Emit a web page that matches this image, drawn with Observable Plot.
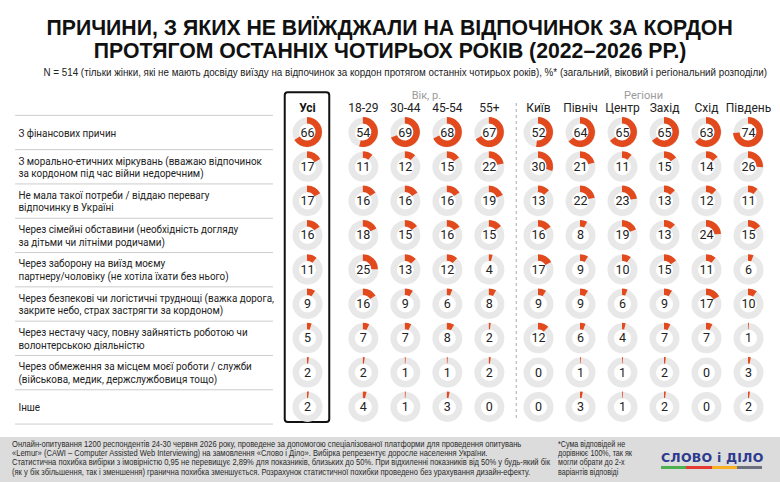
<!DOCTYPE html>
<html lang="uk">
<head>
<meta charset="utf-8">
<script src="https://cdn.jsdelivr.net/npm/d3@7"></script>
<script src="https://cdn.jsdelivr.net/npm/@observablehq/plot@0.6"></script>
<style>
  html, body { margin: 0; padding: 0; background: #fff; }
  body { width: 780px; height: 482px; overflow: hidden; position: relative;
         font-family: Roboto, "Liberation Sans", Arial, sans-serif; color: #222; }
  .line { display: inline-block; white-space: nowrap; }
  #title { position: absolute; top: 15.5px; left: 0; width: 780px; text-align: center;
           font-family: "Liberation Sans", Arial, sans-serif;
           font-weight: bold; font-size: 22px; line-height: 23px; color: #111; }
  #title .line { transform-origin: 50% 50%; }
  #subtitle { position: absolute; top: 66px; left: 0; width: 780px; text-align: center;
              font-family: "Liberation Sans", Arial, sans-serif;
              font-size: 11px; line-height: 12px; color: #222; }
  #subtitle .line { transform-origin: 50% 50%; }
  #chart { position: absolute; top: 82px; left: 0; }
  #footer { position: absolute; top: 437px; left: 0; width: 780px; height: 45px; background: #dcdcdc; }
  #method, #note { position: absolute; top: 3px; font-family: "Liberation Sans", Arial, sans-serif;
            font-size: 8.6px; line-height: 9.2px; color: #2a2a2a; white-space: nowrap; transform-origin: 0 0; }
  #method { left: 12px; }
  #note { left: 558px; }
  #logo { position: absolute; left: 661px; top: 15px; width: 101px; }
  #logo .word { font-family: "DejaVu Sans", sans-serif; font-weight: bold; font-size: 12.5px;
                line-height: 12px; color: #2d3a8f; letter-spacing: 0.2px; white-space: nowrap; }
  #logo .bar { display: flex; height: 2.5px; margin-top: 2px; }
  #logo .bar span { flex: 1; }
</style>
</head>
<body>
<div id="title"><span class="line" id="t1">ПРИЧИНИ, З ЯКИХ НЕ ВИЇЖДЖАЛИ НА ВІДПОЧИНОК ЗА КОРДОН</span><br><span class="line" id="t2">ПРОТЯГОМ ОСТАННІХ ЧОТИРЬОХ РОКІВ (2022–2026 РР.)</span></div>
<div id="subtitle"><span class="line" id="sub">N = 514 (тільки жінки, які не мають досвіду виїзду на відпочинок за кордон протягом останніх чотирьох років), %* (загальний, віковий і регіональний розподіли)</span></div>
<div id="chart"></div>
<div id="footer">
  <div id="method">Онлайн-опитування 1200 респондентів 24-30 червня 2026 року, проведене за допомогою спеціалізованої платформи для проведення опитувань<br>«Lemur» (CAWI – Computer Assisted Web Interviewing) на замовлення «Слово і Діло». Вибірка репрезентує доросле населення України.<br>Статистична похибка вибірки з імовірністю 0,95 не перевищує 2,89% для показників, близьких до 50%. При відхиленні показників від 50% у будь-який бік<br>(як у бік збільшення, так і зменшення) гранична похибка зменшується. Розрахунок статистичної похибки проведено без урахування дизайн-ефекту.</div>
  <div id="note">*Сума відповідей не<br>дорівнює 100%, так як<br>могли обрати до 2-х<br>варіантів відповіді</div>
  <div id="logo">
    <div class="word">СЛОВО і ДІЛО</div>
    <div class="bar"><span style="background:#4caf50"></span><span style="background:#e53935"></span><span style="background:#f9b122"></span><span style="background:#6b6f7e"></span></div>
  </div>
</div>
<script>
// Reasons (rows)
const reasons = [
  "З фінансових причин",
  "З морально-етичних міркувань (вважаю відпочинок\nза кордоном під час війни недоречним)",
  "Не мала такої потреби / віддаю перевагу\nвідпочинку в Україні",
  "Через сімейні обставини (необхідність догляду\nза дітьми чи літніми родичами)",
  "Через заборону на виїзд моєму\nпартнеру/чоловіку (не хотіла їхати без нього)",
  "Через безпекові чи логістичні труднощі (важка дорога,\nзакрите небо, страх застрягти за кордоном)",
  "Через нестачу часу, повну зайнятість роботою чи\nволонтерською діяльністю",
  "Через обмеження за місцем моєї роботи / служби\n(військова, медик, держслужбовиця тощо)",
  "Інше"
];

// Column groups
const totalLabel = "Усі";
const ageGroups = ["18-29", "30-44", "45-54", "55+"];
const regions = ["Київ", "Північ", "Центр", "Захід", "Схід", "Південь"];

// Shares, % — one array per column, in the order of reasons
const total   = [66, 17, 17, 16, 11, 9, 5, 2, 2];
const age1829 = [54, 11, 16, 18, 25, 16, 7, 2, 4];
const age3044 = [69, 12, 16, 15, 13, 9, 7, 1, 1];
const age4554 = [68, 15, 16, 16, 12, 6, 8, 1, 3];
const age55   = [67, 22, 19, 15, 4, 8, 2, 2, 0];
const kyiv    = [52, 30, 13, 16, 17, 9, 12, 0, 0];
const north   = [64, 21, 22, 8, 9, 9, 6, 1, 3];
const centre  = [65, 11, 23, 19, 10, 6, 4, 1, 1];
const west    = [65, 15, 13, 13, 15, 9, 7, 2, 2];
const east    = [63, 14, 12, 24, 11, 17, 7, 0, 0];
const south   = [74, 26, 11, 15, 6, 10, 1, 3, 2];

const ageSeries = [age1829, age3044, age4554, age55];
const regionSeries = [kyiv, north, centre, west, east, south];

// Column slots along x: total, then age groups, then regions (with gaps between groups)
const columns = [
  {name: totalLabel, slot: 0, series: total},
  ...ageGroups.map((name, i) => ({name, slot: 1.33 + i, series: ageSeries[i]})),
  ...regions.map((name, i) => ({name, slot: 5.5 + i, series: regionSeries[i]}))
];

const cells = columns.flatMap(c => c.series.map((value, row) => ({column: c.name, slot: c.slot, row, value})));
const rows = reasons.map((label, row) => ({label, row}));

const ageMid = d3.mean(columns.filter(c => ageGroups.includes(c.name)), c => c.slot);
const regionMid = d3.mean(columns.filter(c => regions.includes(c.name)), c => c.slot);
const groups = [{label: "Вік, р.", slot: ageMid}, {label: "Регіони", slot: regionMid}];

const ORANGE = "#e2491c";
const RING = "#e8e8e8";
const R_OUT = 15, R_IN = 8.5;
const LABEL_X = 18, LABEL_SQUEEZE = 0.915;

// Partial ring drawn clockwise from 12 o'clock for each cell's share
const arcs = Plot.dot(cells, {
  x: "slot", y: "row",
  render(index, scales, values) {
    const g = d3.create("svg:g").attr("fill", ORANGE);
    const arc = d3.arc().innerRadius(R_IN).outerRadius(R_OUT).startAngle(0);
    for (const i of index) {
      const v = cells[i].value;
      if (!v) continue;
      g.append("path")
        .attr("transform", `translate(${values.x[i]},${values.y[i]})`)
        .attr("d", arc({endAngle: 2 * Math.PI * v / 100}));
    }
    return g.node();
  }
});

// Row labels, slightly condensed horizontally
const labels = Plot.text(rows, {
  y: "row", text: "label", frameAnchor: "left", dx: 3, textAnchor: "start", lineAnchor: "middle",
  lineHeight: 1.17, fontSize: 10.8, fill: "#222",
  render(index, scales, values, dimensions, context, next) {
    const inner = next(index, scales, values, dimensions, context);
    const g = d3.create("svg:g")
      .attr("transform", `translate(${LABEL_X},0) scale(${LABEL_SQUEEZE},1) translate(${-LABEL_X},0)`);
    g.node().append(inner);
    return g.node();
  }
});

const chart = Plot.plot({
  width: 780,
  height: 348,
  marginLeft: 15, marginRight: 0, marginTop: 0, marginBottom: 0,
  x: {type: "linear", domain: [0, 10.5], range: [307, 748], axis: null},
  y: {type: "linear", domain: [0, 8], range: [50, 324.4], axis: null},
  style: {fontFamily: "Roboto, 'Liberation Sans', Arial, sans-serif", fontSize: "12px", background: "transparent", color: "#222", overflow: "visible"},
  marks: [
    // row separators in the label column
    Plot.ruleY(d3.range(reasons.length + 1), {y: d => d - 0.5, x1: -6.95, x2: -0.81, stroke: "#cccccc", strokeWidth: 1}),
    labels,
    // divider between age and regional breakdowns
    Plot.ruleX([4.97], {y1: -0.845, y2: 8.42, stroke: "#aaa", strokeDasharray: "3,3", strokeWidth: 1}),
    // frame around the total column
    Plot.rect([0], {x1: -0.53, x2: 0.53, y1: -1.157, y2: 8.455, fill: "none", stroke: "#111", strokeWidth: 2, rx: 3}),
    // group and column headers
    Plot.text(groups, {x: "slot", y: -1.08, text: "label", fill: "#9a9a9a", fontSize: 11}),
    Plot.text(columns.filter(c => c.name !== totalLabel), {x: "slot", y: -0.72, text: "name", fontSize: 12, fill: "#222"}),
    Plot.text(columns.filter(c => c.name === totalLabel), {x: "slot", y: -0.72, text: "name", fontSize: 12, fontWeight: "bold", fill: "#111"}),
    // donuts
    Plot.dot(cells, {x: "slot", y: "row", r: (R_OUT + R_IN) / 2, stroke: RING, strokeWidth: R_OUT - R_IN, fill: "none"}),
    arcs,
    Plot.text(cells, {x: "slot", y: "row", text: d => String(d.value), fontSize: 12.5, fill: "#222"})
  ]
});

document.getElementById("chart").append(chart);

// Condense the heading and footnote text blocks horizontally to their set widths
function squeeze(el, width) {
  el.style.transform = "none";
  const k = width / el.offsetWidth;
  el.style.transform = `scaleX(${k})`;
  return k;
}
function layoutText() {
  const kTitle = squeeze(document.getElementById("t1"), 686);
  document.getElementById("t2").style.transform = `scaleX(${kTitle})`;
  squeeze(document.getElementById("sub"), 724);
  const method = document.getElementById("method");
  method.style.display = "inline-block";
  squeeze(method, 538);
  const note = document.getElementById("note");
  note.style.display = "inline-block";
  squeeze(note, 74);
}
layoutText();
if (document.fonts && document.fonts.ready) document.fonts.ready.then(layoutText);
</script>
</body>
</html>
